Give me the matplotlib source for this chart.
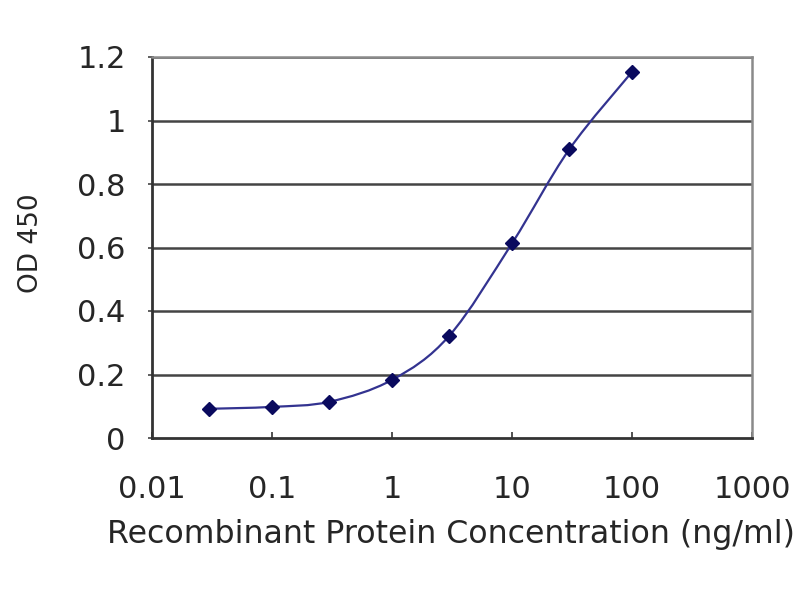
import numpy as np
import matplotlib
matplotlib.use("Agg")
import matplotlib.pyplot as plt
from matplotlib.path import Path
from matplotlib.patches import PathPatch

# Data
concentration = [0.03, 0.1, 0.3, 1, 3, 10, 30, 100]
od450 = [0.092, 0.098, 0.114, 0.183, 0.322, 0.613, 0.909, 1.153]
x_ticks = [0.01, 0.1, 1, 10, 100, 1000]
x_tick_labels = ["0.01", "0.1", "1", "10", "100", "1000"]
y_ticks = [0, 0.2, 0.4, 0.6, 0.8, 1.0, 1.2]
y_tick_labels = ["0", "0.2", "0.4", "0.6", "0.8", "1", "1.2"]
x_label = "Recombinant Protein Concentration (ng/ml)"
y_label = "OD 450"

plt.rcParams['font.family'] = ['DejaVu Sans']
text_color = '#262626'

fig = plt.figure(figsize=(8, 6), dpi=100)
ax = fig.add_axes([0.19, 0.27, 0.75, 0.635])
ax.set_xscale('log')
ax.set_xlim(0.01, 1000)
ax.set_ylim(0, 1.2)

# Smoothed line (Catmull-Rom style Bezier, as in spreadsheet smoothed lines)
lx = np.log10(concentration)
yy = np.array(od450, dtype=float)
pts = np.column_stack([lx, yy])
n = len(pts)
verts = [pts[0]]
codes = [Path.MOVETO]
for i in range(n - 1):
    p0 = pts[i - 1] if i > 0 else pts[i]
    p1 = pts[i]
    p2 = pts[i + 1]
    p3 = pts[i + 2] if i + 2 < n else pts[i + 1]
    c1 = p1 + (p2 - p0) / 6.0
    c2 = p2 - (p3 - p1) / 6.0
    verts += [c1, c2, p2]
    codes += [Path.CURVE4] * 3
verts = np.array(verts)
verts[:, 0] = 10 ** verts[:, 0]
patch = PathPatch(Path(verts, codes), fill=False, edgecolor='#333390',
                  lw=1.6, transform=ax.transData, zorder=3)
ax.add_patch(patch)

ax.plot(concentration, od450, linestyle='none', marker='D', markersize=7,
        color='#0a0a5e', zorder=4)

# Grid
for yv in y_ticks[1:]:
    ax.axhline(yv, color='#444444', lw=1.8, zorder=1)

ax.set_xticks(x_ticks)
ax.set_xticklabels(x_tick_labels)
ax.minorticks_off()
ax.set_yticks(y_ticks)
ax.set_yticklabels(y_tick_labels)
ax.tick_params(axis='x', direction='in', length=4, width=1.2, pad=27,
               labelsize=22, colors='#333333', labelcolor=text_color)
ax.tick_params(axis='y', length=3, width=1.2, pad=16, labelsize=22,
               colors='#444444', labelcolor=text_color)

for s in ['left', 'bottom']:
    ax.spines[s].set_color('#333333')
    ax.spines[s].set_linewidth(2.0)
for s in ['top', 'right']:
    ax.spines[s].set_color('#8a8a8a')
    ax.spines[s].set_linewidth(1.8)

fig.text(0.5633, 0.095, x_label, ha='center', va='baseline', fontsize=22.8,
         color=text_color)
fig.text(0.039, 0.594, y_label, ha='center', va='center', rotation=90,
         fontsize=19, color=text_color)

fig.savefig('out.png', dpi=100)
